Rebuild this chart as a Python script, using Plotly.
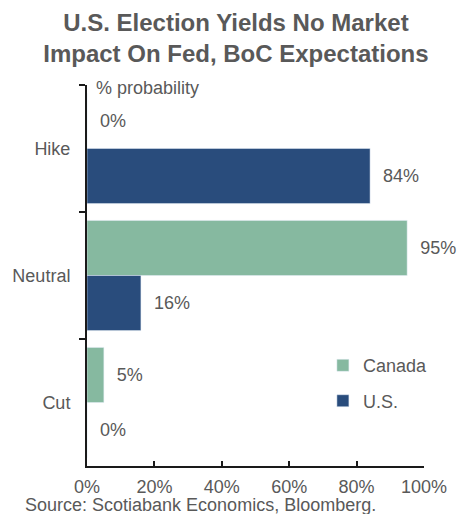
import plotly.graph_objects as go

categories = ["Hike", "Neutral", "Cut"]
canada = [0, 95, 5]
us = [84, 16, 0]
x_ticks = [0, 20, 40, 60, 80, 100]
x_tick_labels = ["0%", "20%", "40%", "60%", "80%", "100%"]

GREY = "#595959"
FONT = "Liberation Sans, Arial, sans-serif"
PAD = "\u00a0\u00a0"

fig = go.Figure()
fig.add_trace(go.Bar(
    y=categories, x=canada, orientation="h", name="Canada",
    marker=dict(color="#86B9A0"), legendgroup="ca",
    text=[f"{PAD}{v}%" for v in canada], textposition="outside",
    textfont=dict(size=18, color=GREY, family=FONT),
    constraintext="none", cliponaxis=False,
))
fig.add_trace(go.Bar(
    y=categories, x=us, orientation="h", name="U.S.",
    marker=dict(color="#294C7C"), legendgroup="us",
    text=[f"{PAD}{v}%" for v in us], textposition="outside",
    textfont=dict(size=18, color=GREY, family=FONT),
    constraintext="none", cliponaxis=False,
))

fig.update_layout(
    width=459, height=514,
    margin=dict(l=87, r=32, t=85, b=48),
    paper_bgcolor="white", plot_bgcolor="white",
    barmode="group", bargap=0.132, bargroupgap=0,
    font=dict(family=FONT, size=18, color=GREY),
    title=dict(
        text="<b>U.S. Election Yields No Market<br>Impact On Fed, BoC Expectations</b>",
        x=0.514, xanchor="center", y=0.94, yanchor="top",
        font=dict(size=24, color=GREY, family=FONT),
    ),
    showlegend=True,
    legend=dict(
        x=0.70, xanchor="left", y=0.312, yanchor="top",
        font=dict(size=18, color=GREY, family=FONT),
        traceorder="grouped", tracegroupgap=9,
        bgcolor="rgba(0,0,0,0)", itemclick=False,
    ),
    xaxis=dict(
        range=[0, 100], tickvals=x_ticks, ticktext=x_tick_labels,
        showgrid=False, zeroline=False,
        showline=True, linecolor="#1a1a1a", linewidth=2,
        ticks="inside", ticklen=5, tickwidth=2, tickcolor="#1a1a1a",
        ticklabelstandoff=3,
        tickfont=dict(size=18, color=GREY, family=FONT),
        fixedrange=True,
    ),
    yaxis=dict(
        autorange="reversed", type="category",
        showgrid=False, zeroline=False,
        showline=True, linecolor="#1a1a1a", linewidth=2,
        ticks="outside", ticklen=6, tickwidth=2, tickcolor="#1a1a1a",
        tickson="boundaries", ticklabelstandoff=11,
        tickfont=dict(size=18, color=GREY, family=FONT),
        fixedrange=True,
    ),
)

fig.add_annotation(
    text="% probability", xref="paper", yref="paper",
    x=0, y=1, xanchor="left", yanchor="middle", xshift=7, yshift=-3,
    showarrow=False, font=dict(size=18, color=GREY, family=FONT),
)
fig.add_annotation(
    text="Source: Scotiabank Economics, Bloomberg.", xref="paper", yref="paper",
    x=-0.191, y=0, xanchor="left", yanchor="middle", yshift=-39,
    showarrow=False, font=dict(size=18, color=GREY, family=FONT),
)

fig.write_html("out.html", config={"displayModeBar": False})

# remove the browser's default body margin so the figure sits at the page origin
with open("out.html", "r", encoding="utf-8") as f:
    html = f.read()
html = html.replace("<head>", "<head><style>html,body{margin:0;padding:0;overflow:hidden;}</style>", 1)
with open("out.html", "w", encoding="utf-8") as f:
    f.write(html)
